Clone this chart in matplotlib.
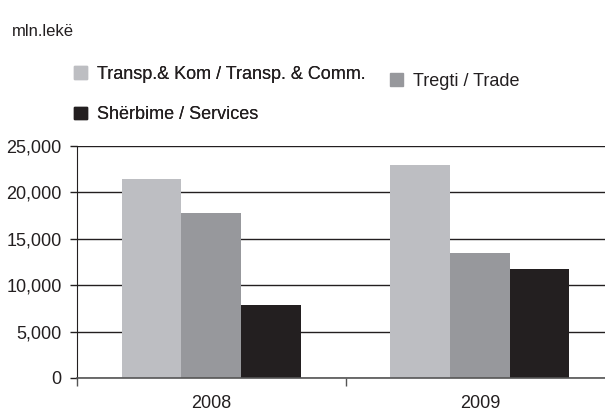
import numpy as np
import matplotlib
matplotlib.use("Agg")
from matplotlib import pyplot as plt
from matplotlib.patches import Patch

plt.rcParams['font.family'] = ['Liberation Sans', 'DejaVu Sans']

years = ["2008", "2009"]
series = ["Transp.& Kom / Transp. & Comm.", "Tregti / Trade", "Shërbime / Services"]
transport = [21400, 22900]
trade = [17800, 13500]
services = [7900, 11700]
colors = ["#bdbec2", "#97989c", "#231f20"]
yticks = [0, 5000, 10000, 15000, 20000, 25000]

fig = plt.figure(figsize=(6.05, 4.16), dpi=100)
ax = fig.add_axes([77 / 605, 1 - 378 / 416, 528 / 605, 232 / 416])

x = np.arange(len(years))
w = 0.222
for i, vals in enumerate([transport, trade, services]):
    ax.bar(x + (i - 1) * w, vals, width=w, color=colors[i], zorder=3)

ax.set_ylim(0, 25000)
ax.set_xlim(-0.5, 1.466)
ax.set_yticks(yticks)
ax.set_yticklabels([f"{v:,}" for v in yticks], fontsize=13, color="#231f20")
ax.yaxis.grid(True, color="#231f20", linewidth=1.0, zorder=0)
ax.tick_params(axis="y", length=5, width=1.0, color="#231f20", pad=6)

ax.set_xticks([-0.5, 0.5])
ax.set_xticklabels([])
ax.set_xticks(x, minor=True)
ax.set_xticklabels(years, minor=True, fontsize=13, color="#231f20")
ax.tick_params(axis="x", which="major", length=6, width=1.0, color="#555555")
ax.tick_params(axis="x", which="minor", length=0, pad=12)

for s in ["top", "right"]:
    ax.spines[s].set_visible(False)
ax.spines["left"].set_color("#231f20")
ax.spines["bottom"].set_color("#555555")
ax.spines["bottom"].set_linewidth(1.2)
ax.spines["bottom"].set_zorder(4)

fig.text(12 / 605, 1 - 32 / 416, "mln.lekë", fontsize=12, color="#231f20", va="center")

h = [Patch(color=c) for c in colors]
leg_kw = dict(frameon=False, fontsize=13, handlelength=0.7, handleheight=0.7,
              handletextpad=0.55, borderpad=0, borderaxespad=0, labelcolor="#231f20")
leg1 = fig.legend([h[0], h[2]], [series[0], series[2]], loc="upper left",
                  bbox_to_anchor=(74 / 605, 1 - 66 / 416), labelspacing=1.3, **leg_kw)
fig.add_artist(leg1)
fig.legend([h[1]], [series[1]], loc="upper left",
           bbox_to_anchor=(390 / 605, 1 - 73 / 416), **leg_kw)

fig.savefig("out.png", dpi=100)
